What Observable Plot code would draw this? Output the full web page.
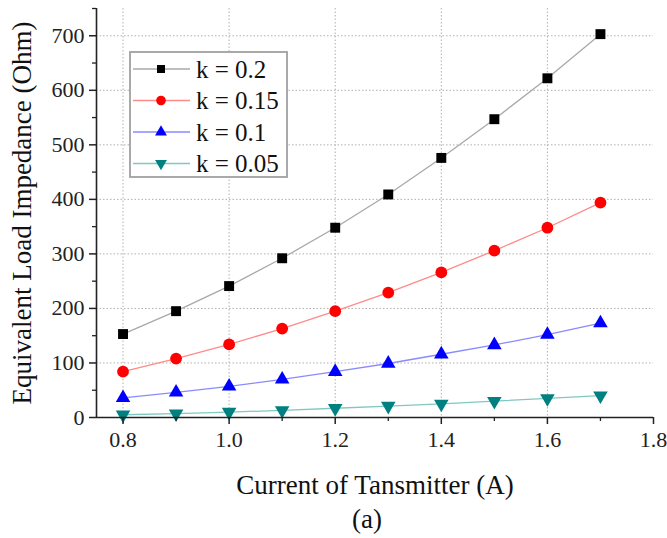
<!DOCTYPE html>
<html><head><meta charset="utf-8">
<script src="https://cdn.jsdelivr.net/npm/d3@7"></script>
<script src="https://cdn.jsdelivr.net/npm/@observablehq/plot@0.6"></script>
<style>
body{margin:0;background:#fff;font-family:"Liberation Serif",serif}
#wrap{position:relative;width:667px;height:538px}
#legend{position:absolute;left:129px;top:51px}
svg text{font-family:"Liberation Serif",serif !important}
</style></head><body><div id="wrap"></div><script>
const current = [0.8, 0.9, 1.0, 1.1, 1.2, 1.3, 1.4, 1.5, 1.6, 1.7];
const k020 = [153, 195, 241, 292, 348, 409, 476, 547, 622, 703];
const k015 = [84, 108, 134, 163, 195, 229, 266, 306, 348, 394];
const k010 = [36, 46, 57, 70, 84, 99, 116, 133, 152, 173];
const k005 = [5, 7, 10, 13, 17, 21, 25, 30, 35, 40];
const seriesNames = ["k = 0.2", "k = 0.15", "k = 0.1", "k = 0.05"];
const xMajor = [0.8, 1.0, 1.2, 1.4, 1.6, 1.8];
const xMinor = [0.9, 1.1, 1.3, 1.5, 1.7];
const yMajor = [0, 100, 200, 300, 400, 500, 600, 700];
const yMinor = [50, 150, 250, 350, 450, 550, 650, 750];
const xDomain = [0.75, 1.8];
const yDomain = [0, 750];
const xLabel = "Current of Tansmitter (A)";
const yLabel = "Equivalent Load Impedance (Ohm)";
const caption = "(a)";
const FONT = "Liberation Serif, serif";

const triDown = {draw(ctx, size){
  const y = Math.sqrt(size / (Math.sqrt(3) * 3));
  ctx.moveTo(0, 2 * y); ctx.lineTo(-Math.sqrt(3) * y, -y); ctx.lineTo(Math.sqrt(3) * y, -y); ctx.closePath();
}};
const styles = [
  {vals: k020, fill: "#000000", line: "#a8a8a8", symbol: d3.symbolSquare, r: 5.6, lr: 4.5},
  {vals: k015, fill: "#ff0000", line: "#ff8a8a", symbol: d3.symbolCircle, r: 5.9, lr: 4.8},
  {vals: k010, fill: "#0000ff", line: "#8a8aff", symbol: d3.symbolTriangle, r: 5.4, lr: 4.4},
  {vals: k005, fill: "#008080", line: "#80c8c0", symbol: triDown, r: 5.4, lr: 4.4}
];

const marks = [
  Plot.gridX(xMajor.slice(0, -1), {stroke: "#b0b0b0", strokeOpacity: 1, strokeDasharray: "1.5,2"}),
  Plot.gridY(yMajor.slice(1), {stroke: "#b0b0b0", strokeOpacity: 1, strokeDasharray: "1.5,2"}),
];
styles.forEach((s, j) => {
  const rows = current.map((c, i) => ({current: c, value: s.vals[i], series: seriesNames[j]}));
  marks.push(Plot.line(rows, {x: "current", y: "value", stroke: s.line, strokeWidth: 1.3}));
  marks.push(Plot.dot(rows, {x: "current", y: "value", fill: s.fill, stroke: "none", symbol: s.symbol, r: s.r}));
});
marks.push(
  Plot.ruleY([yDomain[0]], {stroke: "#222", strokeWidth: 1.6}),
  Plot.ruleX([xDomain[0]], {stroke: "#222", strokeWidth: 1.6}),
  Plot.axisX(xMajor, {tickSize: 7, tickPadding: 7, tickFormat: d3.format(".1f"), fontSize: 22, fontFamily: FONT, stroke: "#222", strokeWidth: 1.5, fill: "#222", label: null}),
  Plot.axisX(xMinor, {tickSize: 4, tickFormat: () => "", stroke: "#222", strokeWidth: 1.3, label: null}),
  Plot.axisY(yMajor, {tickSize: 7, tickPadding: 5, fontSize: 22, fontFamily: FONT, stroke: "#222", strokeWidth: 1.5, fill: "#222", label: null}),
  Plot.axisY(yMinor, {tickSize: 4, tickFormat: () => "", stroke: "#222", strokeWidth: 1.3, label: null}),
  Plot.text([xLabel], {frameAnchor: "bottom", dy: 76, fontSize: 27, fontFamily: FONT, fill: "#111", textAnchor: "middle", lineAnchor: "bottom"}),
  Plot.text([caption], {frameAnchor: "bottom", dy: 110, dx: -8, fontSize: 27, fontFamily: FONT, fill: "#111", textAnchor: "middle", lineAnchor: "bottom"}),
  Plot.text([yLabel], {frameAnchor: "left", dx: -74, rotate: -90, fontSize: 27, fontFamily: FONT, fill: "#111", textAnchor: "middle", lineAnchor: "middle"})
);

const chart = Plot.plot({
  width: 667, height: 538,
  marginLeft: 96, marginRight: 14, marginTop: 8, marginBottom: 121,
  x: {domain: xDomain},
  y: {domain: yDomain},
  style: {fontFamily: FONT, background: "#fff", overflow: "visible"},
  marks
});
const wrap = document.getElementById("wrap");
wrap.insertBefore(chart, wrap.firstChild);

// Legend
const lg = d3.select(wrap).append("svg").attr("id", "legend").attr("width", 160).attr("height", 128);
lg.append("rect").attr("x", 1).attr("y", 1).attr("width", 157).attr("height", 125)
  .attr("fill", "#fff").attr("stroke", "#a0a0a0").attr("stroke-width", 1.8);
styles.forEach((s, j) => {
  const cy = 18 + j * 31.5;
  const g = lg.append("g").attr("transform", `translate(0,${cy})`);
  g.append("line").attr("x1", 4).attr("x2", 61).attr("y1", 0).attr("y2", 0).attr("stroke", s.line).attr("stroke-width", 1.3);
  g.append("path").attr("transform", "translate(32,0)").attr("d", d3.symbol(s.symbol, Math.PI * s.lr * s.lr)()).attr("fill", s.fill);
  g.append("text").attr("x", 67).attr("y", 0).attr("dy", "0.35em").attr("font-size", 25).attr("fill", "#111").text(seriesNames[j]);
});
</script></body></html>
